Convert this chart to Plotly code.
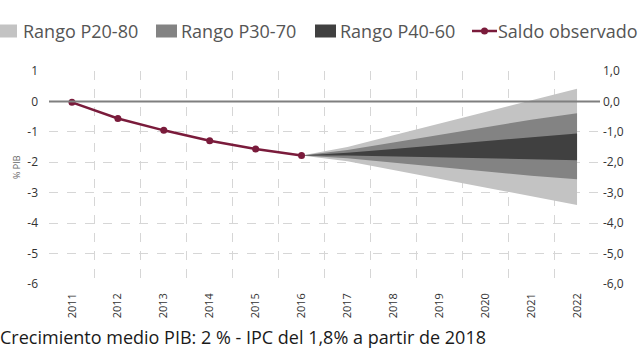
import plotly.graph_objects as go

# ---- data ----
years = [2011, 2012, 2013, 2014, 2015, 2016, 2017, 2018, 2019, 2020, 2021, 2022]
obs_years = [2011, 2012, 2013, 2014, 2015, 2016]
saldo = [-0.03, -0.56, -0.95, -1.29, -1.56, -1.78]

fan_years = [2016, 2017, 2018, 2019, 2020, 2021, 2022]
p20 = [-1.78, -1.97, -2.25, -2.54, -2.82, -3.11, -3.40]
p80 = [-1.78, -1.50, -1.11, -0.73, -0.35, 0.04, 0.42]
p30 = [-1.78, -1.87, -2.01, -2.16, -2.30, -2.44, -2.56]
p70 = [-1.78, -1.60, -1.35, -1.10, -0.85, -0.60, -0.39]
p40 = [-1.78, -1.78, -1.82, -1.84, -1.87, -1.90, -1.93]
p60 = [-1.78, -1.69, -1.56, -1.43, -1.31, -1.18, -1.05]

y_ticks = [1, 0, -1, -2, -3, -4, -5, -6]
y_left_labels = ["1", "0", "-1", "-2", "-3", "-4", "-5", "-6"]
y_right_labels = ["1,0", "0,0", "-1,0", "-2,0", "-3,0", "-4,0", "-5,0", "-6,0"]
x_labels = [str(y) for y in years]

band_names = ["Rango P20-80", "Rango P30-70", "Rango P40-60"]
band_colors = ["#c3c3c3", "#838383", "#404040"]
line_name = "Saldo observado"
line_color = "#7a1b3b"
note = "Crecimiento medio PIB: 2 % - IPC del 1,8% a partir de 2018"

X_MIN, X_MAX = years[0] - 0.5, years[-1] + 0.5
Y_MIN, Y_MAX = -6, 1
ZERO = 0

FONT = "Open Sans"
W, H = 640, 360
ML, MR, MT, MB = 49, 40, 71, 76
PW, PH = W - ML - MR, H - MT - MB


def px_x(p):
    return (p - ML) / PW


def px_y(p):
    return (H - MB - p) / PH


fig = go.Figure()

bands = [(p80, p20), (p70, p30), (p60, p40)]
for (up, lo), name, col in zip(bands, band_names, band_colors):
    fig.add_trace(go.Scatter(
        x=fan_years + fan_years[::-1],
        y=up + lo[::-1],
        fill="toself", fillcolor=col, mode="lines",
        line=dict(width=0, color=col), name=name, hoverinfo="skip",
        showlegend=False,
    ))

# zero reference line (on the right axis so that axis is drawn)
fig.add_trace(go.Scatter(
    x=[X_MIN, X_MAX], y=[ZERO, ZERO], mode="lines", yaxis="y2",
    line=dict(color="#7f7f7f", width=2), showlegend=False, hoverinfo="skip",
))

fig.add_trace(go.Scatter(
    x=obs_years, y=saldo, mode="lines+markers", name=line_name,
    line=dict(color=line_color, width=2.5),
    marker=dict(color=line_color, size=7), showlegend=False,
))

# ---- legend (drawn manually so it can bleed off the left edge like the original) ----
leg_y = 31
swatches = [(-10, 17), (156, 177), (315, 336)]
text_x = [21, 179, 338, 496]
shapes = []
annotations = []
for (x0, x1), col in zip(swatches, band_colors):
    shapes.append(dict(type="rect", xref="paper", yref="paper",
                       x0=px_x(x0), x1=px_x(x1), y0=px_y(leg_y + 6.5), y1=px_y(leg_y - 6.5),
                       fillcolor=col, line=dict(width=0), layer="above"))
shapes.append(dict(type="line", xref="paper", yref="paper",
                   x0=px_x(472), x1=px_x(497), y0=px_y(leg_y), y1=px_y(leg_y),
                   line=dict(color=line_color, width=2.5)))
shapes.append(dict(type="circle", xref="paper", yref="paper",
                   x0=px_x(481), x1=px_x(488), y0=px_y(leg_y + 3.5), y1=px_y(leg_y - 3.5),
                   fillcolor=line_color, line=dict(width=0)))
for tx, name in zip(text_x, band_names + [line_name]):
    annotations.append(dict(text=name, xref="paper", yref="paper", x=px_x(tx), y=px_y(leg_y),
                            xanchor="left", yanchor="middle", showarrow=False,
                            font=dict(family=FONT, size=18, color="#555555")))

annotations.append(dict(text="% PIB", xref="paper", yref="paper", x=px_x(16), y=px_y(167),
                        xanchor="center", yanchor="middle", textangle=-90, showarrow=False,
                        font=dict(family=FONT, size=9, color="#666666")))
annotations.append(dict(text=note, xref="paper", yref="paper", x=px_x(-2), y=px_y(337),
                        xanchor="left", yanchor="middle", showarrow=False,
                        font=dict(family=FONT, size=18, color="#1a1a1a")))

grid = "#d6d6d6"
fig.update_layout(
    width=W, height=H,
    margin=dict(l=ML, r=MR, t=MT, b=MB, autoexpand=False),
    paper_bgcolor="white", plot_bgcolor="white",
    font=dict(family=FONT, color="#333333"),
    showlegend=False,
    xaxis=dict(
        range=[X_MIN, X_MAX], tickvals=years, ticktext=x_labels, tickangle=-90,
        showgrid=False, zeroline=False, showline=False, automargin=False,
        tickfont=dict(family=FONT, size=11, color="#333333"),
        ticklabelstandoff=6,
        minor=dict(tick0=X_MIN, dtick=1, showgrid=True, gridcolor=grid,
                   griddash="dash", gridwidth=1),
    ),
    yaxis=dict(
        range=[Y_MIN, Y_MAX], tickvals=y_ticks, ticktext=y_left_labels,
        showgrid=True, gridcolor=grid, griddash="dash", gridwidth=1,
        zeroline=False, showline=False, automargin=False,
        tickfont=dict(family=FONT, size=12, color="#333333"),
        ticklabelstandoff=10,
    ),
    yaxis2=dict(
        range=[Y_MIN, Y_MAX], tickvals=y_ticks, ticktext=y_right_labels,
        overlaying="y", side="right", anchor="x",
        showgrid=False, zeroline=False, showline=False, automargin=False,
        tickfont=dict(family=FONT, size=12, color="#333333"),
        ticklabelstandoff=2,
    ),
    shapes=shapes,
    annotations=annotations,
)

fig.write_html("out.html", config={"displayModeBar": False},
               post_script="document.body.style.margin='0';")
